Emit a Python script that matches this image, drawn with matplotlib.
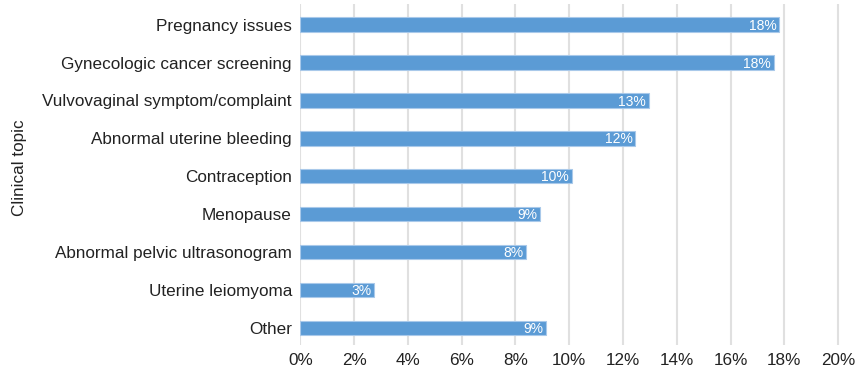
import numpy as np
import matplotlib.pyplot as plt

plt.rcParams['font.family'] = ['Liberation Sans', 'DejaVu Sans']

topics = ['Pregnancy issues', 'Gynecologic cancer screening',
          'Vulvovaginal symptom/complaint', 'Abnormal uterine bleeding',
          'Contraception', 'Menopause', 'Abnormal pelvic ultrasonogram',
          'Uterine leiomyoma', 'Other']
shares = [17.8, 17.6, 12.95, 12.45, 10.1, 8.9, 8.4, 2.75, 9.15]
labels = ['18%', '18%', '13%', '12%', '10%', '9%', '8%', '3%', '9%']
ticks = np.arange(0, 21, 2)

fig = plt.figure(figsize=(8.58, 3.73), dpi=100)
ax = fig.add_axes([0.35, 0.075, 0.63, 0.915])

y = np.arange(len(topics))
ax.barh(y, shares, height=0.38, color='#5B9BD5', edgecolor='#A9C9EA',
        linewidth=0.8, zorder=3)
for yi, v, lab in zip(y, shares, labels):
    ax.text(v - 0.1, yi + 0.03, lab, ha='right', va='center', color='white',
            fontsize=10, zorder=4)

ax.set_xlim(0, 20.1)
ax.set_ylim(len(topics) - 0.55, -0.55)
ax.set_xticks(ticks)
ax.set_xticklabels([f'{t}%' for t in ticks], fontsize=12.3, color='#222222')
ax.set_yticks(y)
ax.set_yticklabels(topics, fontsize=12.3, color='#222222')
ax.tick_params(length=0, pad=6)
ax.grid(axis='x', color='#E0E0E0', linewidth=1.5, zorder=0)
for s in ax.spines.values():
    s.set_visible(False)
ax.set_ylabel('Clinical topic', fontsize=12.3, color='#222222')
ax.yaxis.set_label_coords(-0.506, 0.52)

fig.savefig('out.png', dpi=100)
